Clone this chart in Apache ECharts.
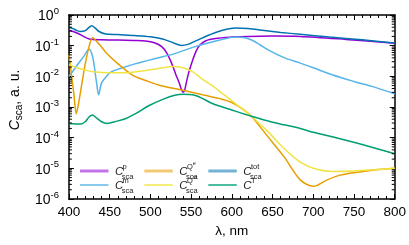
<!DOCTYPE html>
<html><head><meta charset="utf-8">
<script src="https://cdn.jsdelivr.net/npm/echarts@6/dist/echarts.min.js"></script>
<style>html,body{margin:0;padding:0;background:#fff}#c{width:409px;height:245px}</style>
</head><body><div id="c"></div>
<script>
const FONT = 'Liberation Sans, Arial, sans-serif';
const xTicks = [400, 450, 500, 550, 600, 650, 700, 750, 800];

const pData = [[400,0.32],[410,0.26],[418,0.2],[425,0.165],[440,0.155],[460,0.152],[480,0.148],[494,0.143],[505,0.125],[514,0.093],[520,0.058],[526,0.027],[531,0.012],[535,0.0065],[538,0.0038],[540,0.003],[542,0.0035],[545,0.008],[548,0.016],[552,0.034],[556,0.065],[560,0.1],[568,0.145],[580,0.172],[600,0.19],[620,0.2],[650,0.205],[684,0.2],[740,0.16],[800,0.12]];
const mData = [[400,0.010],[405,0.015],[410,0.023],[418,0.044],[422,0.065],[425,0.076],[428,0.055],[430,0.034],[434,0.006],[436.5,0.0025],[440,0.006],[446,0.01],[452,0.014],[463,0.018],[480,0.025],[504,0.037],[530,0.055],[552,0.088],[584,0.15],[605,0.19],[615,0.185],[625,0.15],[635,0.105],[648,0.065],[665,0.04],[684,0.027],[700,0.019],[724,0.011],[750,0.0068],[772,0.0047],[800,0.0027]];
const qeData = [[400,0.05],[403,0.012],[406,0.0028],[409,0.0006],[412,0.0014],[416,0.006],[420,0.025],[425,0.1],[429,0.18],[432,0.16],[440,0.09],[446,0.058],[460,0.026],[478,0.011],[495,0.0072],[510,0.0052],[540,0.0035],[564,0.0025],[588,0.0018],[600,0.0014],[612,0.0009],[624,0.0005],[644,0.00011],[664,0.000024],[684,0.0000042],[700,0.0000026],[717,0.0000042],[733,0.000006],[750,0.0000072],[775,0.0000088],[800,0.00001]];
const qmData = [[400,0.024],[410,0.019],[420,0.016],[430,0.014],[450,0.013],[470,0.013],[490,0.015],[510,0.018],[528,0.021],[540,0.019],[552,0.014],[564,0.008],[576,0.005],[588,0.0028],[600,0.0016],[612,0.0009],[624,0.0005],[644,0.00016],[664,0.000045],[684,0.000016],[704,0.0000093],[724,0.0000079],[750,0.0000082],[775,0.000009],[800,0.00001]];
const totData = [[400,0.40],[405,0.36],[410,0.31],[415,0.29],[420,0.31],[424,0.38],[428,0.45],[432,0.38],[437,0.29],[445,0.24],[460,0.23],[480,0.215],[500,0.195],[515,0.165],[528,0.125],[538,0.102],[546,0.11],[555,0.14],[564,0.18],[580,0.27],[595,0.35],[606,0.38],[620,0.36],[640,0.31],[660,0.27],[684,0.235],[720,0.19],[760,0.155],[800,0.122]];
const tData = [[400,0.00029],[408,0.00028],[415,0.00028],[420,0.00033],[425,0.00048],[429,0.00055],[433,0.00046],[440,0.00033],[447,0.00029],[458,0.00034],[470,0.00042],[483,0.00063],[498,0.0011],[516,0.0018],[530,0.0024],[540,0.0026],[552,0.0025],[564,0.0019],[576,0.0013],[600,0.0008],[624,0.0005],[650,0.00032],[684,0.0002],[700,0.00015],[728,0.0001],[760,0.00006],[800,0.00003]];

const legendItems = [
  {color:'#9400d3', sup:'p', sub:'sca', thick:true},
  {color:'#e69f00', sup:'Q', sup2:'e', sub:'sca', thick:true},
  {color:'#0072b2', sup:'tot', sub:'sca', thick:true},
  {color:'#56b4e9', sup:'m', sub:'sca'},
  {color:'#f0e442', sup:'Q', sup2:'m', sub:'sca'},
  {color:'#009e73', sup:'T', sub:''}
];

const minorY = [];
for (let e = -6; e < 0; e++) for (let k = 2; k <= 9; k++) minorY.push([400, k * Math.pow(10, e)]);

const colX = [80, 144.3, 208.3];
const rowY = [171, 185];
const graphics = [];
legendItems.forEach((it, i) => {
  const col = i % 3, row = Math.floor(i / 3);
  const x0 = colX[col], y0 = rowY[row];
  graphics.push({type:'line', silent:true, shape:{x1:x0, y1:y0, x2:x0+28.5, y2:y0},
    style:{stroke:it.color, lineWidth: it.thick ? 3 : 1.4, opacity: it.thick ? 0.55 : 1}});
  const cx = x0 + 35, cy = y0 + 1;
  graphics.push({type:'text', silent:true, x:cx, y:cy, style:{text:'C', font:'italic 11.5px ' + FONT, fill:'#222', align:'left', verticalAlign:'middle', textAlign:'left', textVerticalAlign:'middle'}});
  graphics.push({type:'text', silent:true, x:cx+7.6, y:cy-5.5, style:{text:it.sup, font:'7.5px ' + FONT, fill:'#222', align:'left', verticalAlign:'middle', textAlign:'left', textVerticalAlign:'middle'}});
  if (it.sup2) graphics.push({type:'text', silent:true, x:cx+13.4, y:cy-8.5, style:{text:it.sup2, font:'5.5px ' + FONT, fill:'#222', align:'left', verticalAlign:'middle', textAlign:'left', textVerticalAlign:'middle'}});
  if (it.sub) graphics.push({type:'text', silent:true, x:cx+6.8, y:cy+4.5, style:{text:it.sub, font:'7.5px ' + FONT, fill:'#222', align:'left', verticalAlign:'middle', textAlign:'left', textVerticalAlign:'middle'}});
});

const chart = echarts.init(document.getElementById('c'), null, {renderer:'canvas'});
const lineS = (name, data, color) => ({type:'line', name, data, showSymbol:false, smooth:0.3,
  lineStyle:{color, width:1.5}, itemStyle:{color}, xAxisIndex:0, yAxisIndex:0, z:3});

const axisCommon = {
  axisLine:{show:true, lineStyle:{color:'#000', width:1.5}},
  axisTick:{show:true, inside:true, length:5, lineStyle:{color:'#000', width:1}},
  splitLine:{show:false}
};

chart.setOption({
  animation:false,
  backgroundColor:'#fff',
  textStyle:{fontFamily:FONT},
  grid:{left:64, right:13, top:15, bottom:46},
  xAxis:[
    Object.assign({type:'value', min:400, max:800, interval:50, position:'bottom',
      minorTick:{show:true, splitNumber:5, length:3, lineStyle:{color:'#000', width:1}},
      axisLabel:{fontSize:13.5, color:'#000', margin:6, fontFamily:FONT, formatter:v => xTicks.indexOf(v) >= 0 ? String(v) : ''},
      name:'λ, nm', nameLocation:'middle', nameGap:23, nameTextStyle:{fontSize:13.5, color:'#000', fontFamily:FONT}
    }, axisCommon),
    Object.assign({type:'value', min:400, max:800, interval:50, position:'top',
      minorTick:{show:true, splitNumber:5, length:3, lineStyle:{color:'#000', width:1}},
      axisLabel:{show:false}}, axisCommon)
  ],
  yAxis:[
    Object.assign({type:'log', logBase:10, min:1e-6, max:1, interval:1, position:'left',
      axisLabel:{margin:10, color:'#000', fontFamily:FONT,
        formatter:v => '{b|10}{s|' + Math.round(Math.log10(v)) + '}{z|\u200b}',
        rich:{b:{fontSize:14, lineHeight:14, verticalAlign:'bottom', fontFamily:FONT, color:'#000'},
              s:{fontSize:9.5, lineHeight:9, verticalAlign:'top', fontFamily:FONT, color:'#000'},
              z:{fontSize:1, lineHeight:17}}},
      name:'{i|C}{s|sca}{n|, a. u.}', nameLocation:'middle', nameRotate:90, nameGap:43,
      nameTextStyle:{padding:[0,0,0,14], rich:{
        i:{fontSize:14, fontStyle:'italic', lineHeight:18, fontFamily:FONT, color:'#000'},
        s:{fontSize:10, lineHeight:10, verticalAlign:'bottom', fontFamily:FONT, color:'#000'},
        n:{fontSize:14, lineHeight:18, fontFamily:FONT, color:'#000'}}}
    }, axisCommon),
    Object.assign({type:'log', logBase:10, min:1e-6, max:1, interval:1, position:'right',
      axisLabel:{show:false}}, axisCommon)
  ],
  graphic: graphics,
  series:[
    lineS('p', pData, '#9400d3'),
    lineS('m', mData, '#56b4e9'),
    lineS('Qe', qeData, '#e69f00'),
    lineS('Qm', qmData, '#f0e442'),
    lineS('T', tData, '#009e73'),
    lineS('tot', totData, '#0072b2'),
    {type:'custom', name:'minor', data:minorY, xAxisIndex:0, yAxisIndex:0, silent:true, z:5,
      encode:{x:0, y:1},
      renderItem:(params, api) => {
        const v = api.value(1);
        const pl = api.coord([400, v]);
        const pr = api.coord([800, v]);
        return {type:'group', children:[
          {type:'line', shape:{x1:pl[0], y1:pl[1], x2:pl[0]+3, y2:pl[1]}, style:{stroke:'#000', lineWidth:1}},
          {type:'line', shape:{x1:pr[0], y1:pr[1], x2:pr[0]-3, y2:pr[1]}, style:{stroke:'#000', lineWidth:1}}
        ]};
      }}
  ]
});
</script>
</body></html>
